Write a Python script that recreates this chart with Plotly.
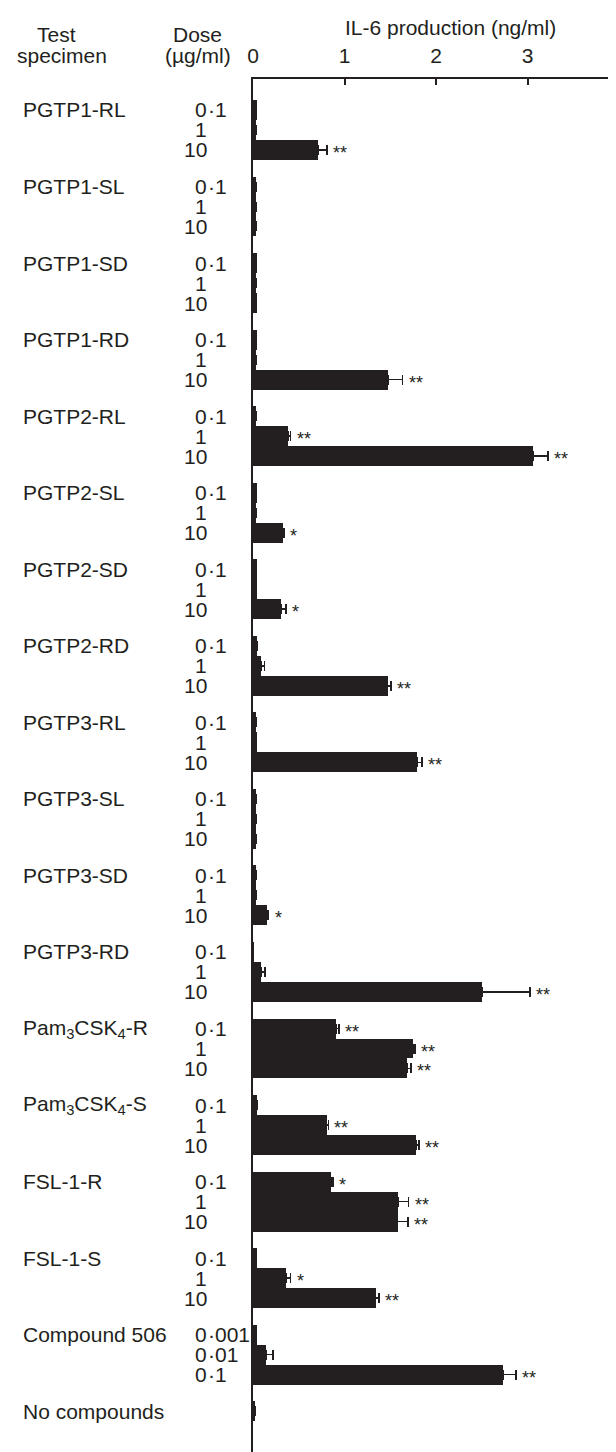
import plotly.graph_objects as go

# ---------------- data ----------------
groups = ["PGTP1-RL", "PGTP1-SL", "PGTP1-SD", "PGTP1-RD",
          "PGTP2-RL", "PGTP2-SL", "PGTP2-SD", "PGTP2-RD",
          "PGTP3-RL", "PGTP3-SL", "PGTP3-SD", "PGTP3-RD",
          "Pam<sub>3</sub>CSK<sub>4</sub>-R", "Pam<sub>3</sub>CSK<sub>4</sub>-S",
          "FSL-1-R", "FSL-1-S", "Compound 506", "No compounds"]

doses_std = ["0·1", "1", "10"]
doses_compound = ["0·001", "0·01", "0·1"]
doses_none = [""]
doses = [doses_std] * 16 + [doses_compound, doses_none]

values = [
    [0.04, 0.03, 0.71],
    [0.03, 0.03, 0.03],
    [0.04, 0.03, 0.04],
    [0.04, 0.03, 1.48],
    [0.03, 0.38, 3.065],
    [0.04, 0.03, 0.33],
    [0.04, 0.04, 0.31],
    [0.045, 0.09, 1.47],
    [0.03, 0.04, 1.79],
    [0.03, 0.03, 0.03],
    [0.03, 0.03, 0.15],
    [0.005, 0.09, 2.50],
    [0.91, 1.75, 1.68],
    [0.045, 0.805, 1.785],
    [0.857, 1.59, 1.58],
    [0.04, 0.36, 1.34],
    [0.04, 0.14, 2.73],
    [0.025],
]

errors = [
    [0, 0, 0.10],
    [0, 0, 0],
    [0, 0, 0],
    [0, 0, 0.155],
    [0, 0.03, 0.16],
    [0, 0, 0.01],
    [0, 0, 0.05],
    [0, 0.035, 0.035],
    [0, 0, 0.055],
    [0, 0, 0],
    [0, 0, 0.02],
    [0, 0.04, 0.53],
    [0.03, 0.02, 0.045],
    [0, 0.02, 0.03],
    [0.02, 0.11, 0.115],
    [0, 0.05, 0.04],
    [0, 0.08, 0.145],
    [0],
]

signif = [
    ["", "", "**"],
    ["", "", ""],
    ["", "", ""],
    ["", "", "**"],
    ["", "**", "**"],
    ["", "", "*"],
    ["", "", "*"],
    ["", "", "**"],
    ["", "", "**"],
    ["", "", ""],
    ["", "", "*"],
    ["", "", "**"],
    ["**", "**", "**"],
    ["", "**", "**"],
    ["*", "**", "**"],
    ["", "*", "**"],
    ["", "", "**"],
    [""],
]

x_ticks = [0, 1, 2, 3, 4]

# ---------------- layout geometry ----------------
W, H = 616, 1452
ML, MR, MT, MB = 245, 5, 71, 0
PW, PH = W - ML - MR, H - MT - MB
GROUP_STEP = 3.83          # rows per group incl. gap
Y_RANGE = [67.55, -1.55]

def px2x(px):
    return (px - ML) / PW

def py2y(py):
    return 1 - (py - MT) / PH

INK = "#231f20"
FONT = "Liberation Sans, Arial, Helvetica, sans-serif"
FS = 21

ys, xs, es = [], [], []
annotations = []
for g, name in enumerate(groups):
    for d, v in enumerate(values[g]):
        y = g * GROUP_STEP + d
        ys.append(y)
        xs.append(v)
        es.append(errors[g][d])
        # dose label aligned on the decimal point
        lab = doses[g][d]
        if lab:
            if "·" in lab:
                ip, fp = lab.split("·", 1)
                fp = "·" + fp
            else:
                ip, fp = lab, ""
            annotations.append(dict(x=px2x(200), y=y, xref="paper", yref="y",
                                    text=ip, showarrow=False, xanchor="right",
                                    yanchor="middle", font=dict(size=FS, color=INK, family=FONT),
                                    borderpad=0))
            if fp:
                annotations.append(dict(x=px2x(199), y=y, xref="paper", yref="y",
                                        text=fp, showarrow=False, xanchor="left",
                                        yanchor="middle", font=dict(size=FS, color=INK, family=FONT),
                                        borderpad=0))
        s = signif[g][d]
        if s:
            annotations.append(dict(x=v + errors[g][d], y=y, xref="x", yref="y",
                                    text=s, showarrow=False, xanchor="left", yanchor="middle",
                                    xshift=5, yshift=-3, borderpad=0,
                                    font=dict(size=18, color=INK, family=FONT)))
    annotations.append(dict(x=px2x(14), y=g * GROUP_STEP, xref="paper", yref="y",
                            text=name, showarrow=False, xanchor="left", yanchor="middle",
                            font=dict(size=FS, color=INK, family=FONT), borderpad=0))

# headers
for txt, cx, cy in [("Test", 49, 27), ("specimen", 54, 47.5),
                    ("Dose", 189, 27), ("(µg/ml)", 189.5, 47.5),
                    ("IL-6 production (ng/ml)", 442, 19)]:
    annotations.append(dict(x=px2x(cx), y=py2y(cy), xref="paper", yref="paper",
                            text=txt, showarrow=False, xanchor="center", yanchor="middle",
                            borderpad=0,
                            font=dict(size=FS, color=INK, family=FONT)))

fig = go.Figure(go.Bar(
    x=xs, y=ys, orientation="h", width=1.0,
    marker=dict(color=INK, line=dict(width=0)),
    error_x=dict(type="data", symmetric=False, array=es, arrayminus=[0] * len(es),
                 color=INK, thickness=1.6, width=5),
    hoverinfo="x",
))

fig.update_layout(
    width=W, height=H,
    margin=dict(l=ML, r=MR, t=MT, b=MB, pad=0),
    paper_bgcolor="white", plot_bgcolor="white",
    showlegend=False,
    annotations=annotations,
    font=dict(family=FONT, size=FS, color=INK),
    bargap=0,
)
fig.update_xaxes(range=[0, 4], side="top", showgrid=False, zeroline=False,
                 showline=True, linecolor=INK, linewidth=1.5,
                 ticks="inside", ticklen=6, tickwidth=1.5, tickcolor=INK,
                 tickvals=x_ticks, ticktext=[str(t) for t in x_ticks],
                 ticklabelstandoff=6, ticklabeloverflow="allow",
                 tickfont=dict(size=FS, color=INK, family=FONT), automargin=False)
fig.update_yaxes(range=Y_RANGE, showgrid=False, zeroline=False,
                 showline=True, linecolor=INK, linewidth=2,
                 showticklabels=False, ticks="", automargin=False)

fig.write_html("out.html")
